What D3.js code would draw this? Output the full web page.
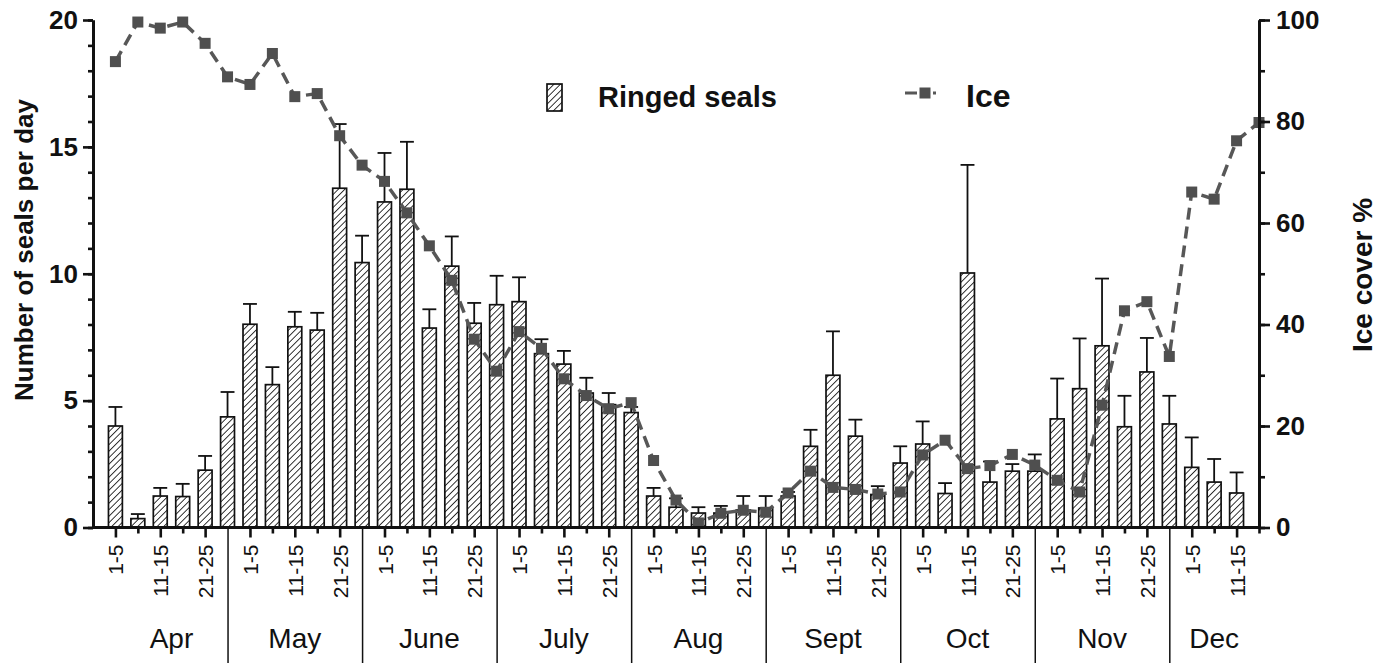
<!DOCTYPE html>
<html>
<head>
<meta charset="utf-8">
<script src="https://cdn.jsdelivr.net/npm/d3@7"></script>
<style>
  html, body { margin: 0; padding: 0; background: #fff; }
  svg { display: block; font-family: "Liberation Sans", Arial, Helvetica, sans-serif; }
</style>
</head>
<body>
<svg id="chart" width="1386" height="663"></svg>
<script>
// ---- data ---------------------------------------------------------------
const months = ["Apr", "May", "June", "July", "Aug", "Sept", "Oct", "Nov", "Dec"];
const periods = ["1-5", "6-10", "11-15", "16-20", "21-25", "26-30"];
const periodsPerMonth = [6, 6, 6, 6, 6, 6, 6, 6, 4];
const labelledPeriods = ["1-5", "11-15", "21-25"];

// ringed seals per day (mean) and upper end of the error bar
const sealMean = [
  4.0, 0.35, 1.24, 1.22, 2.26, 4.36,
  8.01, 5.63, 7.91, 7.78, 13.37, 10.44,
  12.83, 13.33, 7.86, 10.3, 8.05, 8.78,
  8.9, 6.85, 6.44, 5.3, 4.84, 4.53,
  1.24, 0.8, 0.57, 0.57, 0.69, 0.77,
  1.24, 3.2, 6.0, 3.6, 1.3, 2.54,
  3.29, 1.34, 10.03, 1.79, 2.22, 2.22,
  4.28, 5.47, 7.16, 3.97, 6.13, 4.08,
  2.37, 1.79, 1.36, null
];
const sealUpper = [
  4.75, 0.53, 1.56, 1.72, 2.82, 5.34,
  8.81, 6.32, 8.5, 8.46, 15.9, 11.5,
  14.76, 15.2, 8.6, 11.47, 8.85, 9.92,
  9.86, 7.42, 6.96, 5.9, 5.3, 4.75,
  1.56, 1.15, 0.8, 0.85, 1.24, 1.24,
  1.4, 3.85, 7.73, 4.25, 1.63, 3.2,
  4.18, 1.75, 14.29, 2.6, 2.5, 2.88,
  5.87, 7.45, 9.81, 5.19, 7.47, 5.19,
  3.55, 2.7, 2.17, null
];
// ice cover, %
const iceCover = [
  91.8, 99.6, 98.4, 99.6, 95.4, 88.8,
  87.3, 93.4, 84.9, 85.5, 77.2, 71.4,
  68.2, 62.0, 55.5, 48.7, 37.1, 30.8,
  38.6, 35.3, 29.3, 26.0, 23.4, 24.6,
  13.2, 5.4, 0.9, 2.8, 3.4, 3.0,
  6.8, 11.1, 7.9, 7.5, 6.6, 7.0,
  14.3, 17.2, 11.6, 12.2, 14.4, 12.3,
  9.3, 7.0, 24.1, 42.7, 44.5, 33.7,
  66.1, 64.7, 76.2, 79.8
];
const leftTicks = [0, 5, 10, 15, 20];
const rightTicks = [0, 20, 40, 60, 80, 100];

// ---- categories -----------------------------------------------------------
const categories = [];
months.forEach((m, mi) => {
  for (let k = 0; k < periodsPerMonth[mi]; k++) {
    categories.push({ id: m + " " + periods[k], month: m, monthIndex: mi, period: periods[k], k });
  }
});
categories.forEach((c, i) => { c.seal = sealMean[i]; c.upper = sealUpper[i]; c.ice = iceCover[i]; });

// ---- layout & scales -------------------------------------------------------
const W = 1386, H = 663;
const plotLeft = 93, plotRight = 1259, plotTop = 20, plotBottom = 527.5;
const step = (plotRight - plotLeft) / categories.length;
const FONT = '"Liberation Sans", Arial, Helvetica, sans-serif';

const x = d3.scalePoint()
  .domain(categories.map(c => c.id))
  .range([plotLeft + step, plotRight]);
const yL = d3.scaleLinear().domain([0, 20]).range([plotBottom, plotTop]);
const yR = d3.scaleLinear().domain([0, 100]).range([plotBottom, plotTop]);
const barW = step * 0.62;

const svg = d3.select("#chart");

// hatch fill for the bars
const defs = svg.append("defs");
const hatch = defs.append("pattern")
  .attr("id", "hatch")
  .attr("patternUnits", "userSpaceOnUse")
  .attr("width", 4.6).attr("height", 4.6)
  .attr("patternTransform", "rotate(45)");
hatch.append("rect").attr("width", 4.6).attr("height", 4.6).attr("fill", "#fff");
hatch.append("line")
  .attr("x1", 0).attr("y1", 0).attr("x2", 0).attr("y2", 4.6)
  .attr("stroke", "#111").attr("stroke-width", 1.7);

// ---- bars ------------------------------------------------------------------
const barData = categories.filter(c => c.seal != null);
svg.append("g").selectAll("rect")
  .data(barData)
  .join("rect")
  .attr("x", d => x(d.id) - barW / 2)
  .attr("y", d => yL(d.seal))
  .attr("width", barW)
  .attr("height", d => yL(0) - yL(d.seal))
  .attr("fill", "url(#hatch)")
  .attr("stroke", "#111")
  .attr("stroke-width", 1.7);

// upper error bars
const errG = svg.append("g").attr("stroke", "#111").attr("stroke-width", 1.8);
errG.selectAll("line.stem")
  .data(barData)
  .join("line")
  .attr("class", "stem")
  .attr("x1", d => x(d.id)).attr("x2", d => x(d.id))
  .attr("y1", d => yL(d.seal)).attr("y2", d => yL(d.upper));
errG.selectAll("line.cap")
  .data(barData)
  .join("line")
  .attr("class", "cap")
  .attr("x1", d => x(d.id) - barW / 2).attr("x2", d => x(d.id) + barW / 2)
  .attr("y1", d => yL(d.upper)).attr("y2", d => yL(d.upper));

// ---- ice cover line ----------------------------------------------------------
const iceLine = d3.line().x(d => x(d.id)).y(d => yR(d.ice));
svg.append("path")
  .datum(categories)
  .attr("d", iceLine)
  .attr("fill", "none")
  .attr("stroke", "#575757")
  .attr("stroke-width", 3.5)
  .attr("stroke-dasharray", "12,7");
const mk = 11;
svg.append("g").selectAll("rect")
  .data(categories)
  .join("rect")
  .attr("x", d => x(d.id) - mk / 2)
  .attr("y", d => yR(d.ice) - mk / 2)
  .attr("width", mk).attr("height", mk)
  .attr("fill", "#4f4f4f");

// ---- x axis ----------------------------------------------------------------
const xAxisG = svg.append("g").attr("transform", `translate(0,${plotBottom})`);
xAxisG.call(d3.axisBottom(x).tickSize(6).tickSizeOuter(0).tickFormat(""));
xAxisG.select(".domain").remove();
xAxisG.selectAll(".tick").each(function (id) {
  const c = categories.find(d => d.id === id);
  const t = d3.select(this);
  const labelled = labelledPeriods.includes(c.period);
  let len = labelled ? 10 : 6;
  if (c.k === 5) len = H - plotBottom;  // month divider
  t.select("line")
    .attr("y2", len)
    .attr("stroke", "#111")
    .attr("stroke-width", c.k === 5 ? 1.5 : 2.6);
  if (labelled) {
    t.append("text")
      .attr("transform", "rotate(-90)")
      .attr("x", -17).attr("y", 0).attr("dy", "0.36em")
      .attr("text-anchor", "end")
      .attr("fill", "#111")
      .style("font", `21px ${FONT}`)
      .text(c.period);
  }
});
svg.append("line")
  .attr("x1", plotLeft).attr("x2", plotRight)
  .attr("y1", plotBottom).attr("y2", plotBottom)
  .attr("stroke", "#111").attr("stroke-width", 3);

// month names, centred between dividers
const monthG = svg.append("g");
months.forEach((m, mi) => {
  const cats = categories.filter(c => c.monthIndex === mi);
  const first = cats[0], last = cats[cats.length - 1];
  const lo = mi === 0 ? x(first.id) : x(first.id) - step;
  const hi = x(last.id);
  monthG.append("text")
    .attr("x", (lo + hi) / 2).attr("y", 648)
    .attr("text-anchor", "middle")
    .attr("fill", "#111")
    .style("font", `28px ${FONT}`)
    .text(m);
});

// ---- y axes ----------------------------------------------------------------
function styleAxis(g, labelSize) {
  g.select(".domain").attr("stroke", "#111").attr("stroke-width", 3);
  g.selectAll(".tick line").attr("stroke", "#111").attr("stroke-width", 2.6);
  g.selectAll(".tick text")
    .attr("fill", "#111")
    .style("font", `bold ${labelSize}px ${FONT}`);
}
const yLMinor = svg.append("g").attr("transform", `translate(${plotLeft},0)`)
  .call(d3.axisLeft(yL).tickValues(d3.range(0, 21, 1)).tickSize(5).tickSizeOuter(0).tickFormat(""));
styleAxis(yLMinor, 24);
const yLAxis = svg.append("g").attr("transform", `translate(${plotLeft},0)`)
  .call(d3.axisLeft(yL).tickValues(leftTicks).tickSize(10).tickPadding(5).tickSizeOuter(0));
styleAxis(yLAxis, 26);

const yRMinor = svg.append("g").attr("transform", `translate(${plotRight},0)`)
  .call(d3.axisRight(yR).tickValues(d3.range(0, 101, 10)).tickSize(6).tickSizeOuter(0).tickFormat(""));
styleAxis(yRMinor, 24);
const yRAxis = svg.append("g").attr("transform", `translate(${plotRight},0)`)
  .call(d3.axisRight(yR).tickValues(rightTicks).tickSize(11).tickPadding(6).tickSizeOuter(0));
styleAxis(yRAxis, 26);

// axis titles
svg.append("text")
  .attr("transform", "translate(33,250) rotate(-90)")
  .attr("text-anchor", "middle")
  .attr("fill", "#111")
  .style("font", `bold 26px ${FONT}`)
  .text("Number of seals per day");
svg.append("text")
  .attr("transform", "translate(1372,275) rotate(-90)")
  .attr("text-anchor", "middle")
  .attr("fill", "#111")
  .style("font", `bold 28px ${FONT}`)
  .text("Ice cover %");

// ---- legend ----------------------------------------------------------------
const lg = svg.append("g");
lg.append("rect")
  .attr("x", 547).attr("y", 84).attr("width", 15).attr("height", 27)
  .attr("fill", "url(#hatch)").attr("stroke", "#111").attr("stroke-width", 1.7);
lg.append("text")
  .attr("x", 598).attr("y", 107)
  .attr("fill", "#111")
  .style("font", `bold 29px ${FONT}`)
  .text("Ringed seals");
lg.append("line")
  .attr("x1", 905).attr("x2", 946).attr("y1", 93).attr("y2", 93)
  .attr("stroke", "#575757").attr("stroke-width", 3)
  .attr("stroke-dasharray", "12,4,7,5,3");
lg.append("rect")
  .attr("x", 925 - mk / 2).attr("y", 93 - mk / 2).attr("width", mk).attr("height", mk)
  .attr("fill", "#4f4f4f");
lg.append("text")
  .attr("x", 966).attr("y", 107)
  .attr("fill", "#111")
  .style("font", `bold 32px ${FONT}`)
  .text("Ice");
</script>
</body>
</html>
